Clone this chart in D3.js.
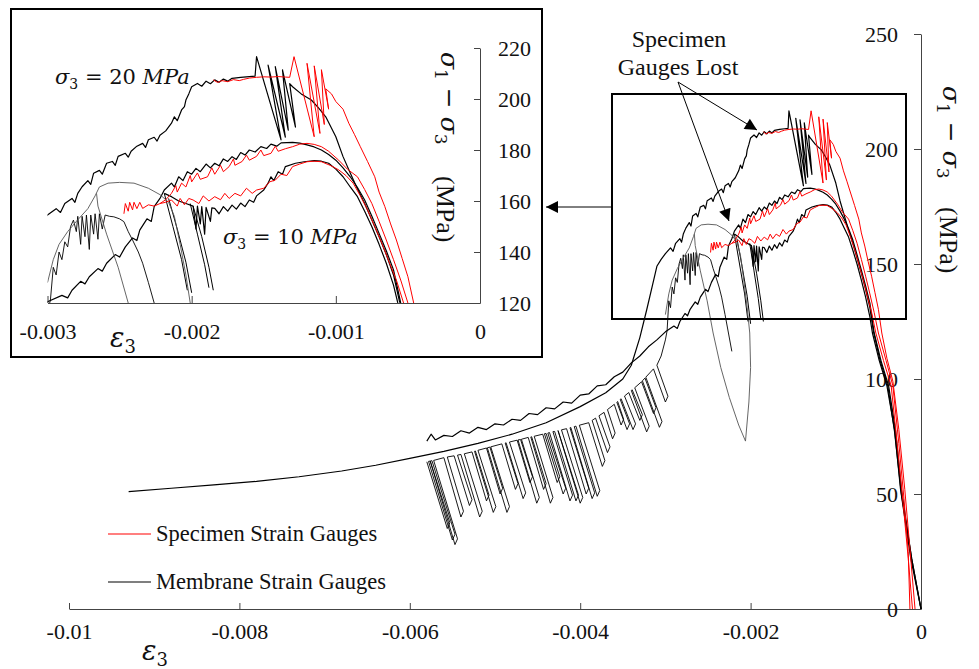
<!DOCTYPE html>
<html><head><meta charset="utf-8">
<script src="https://cdn.jsdelivr.net/npm/d3@7"></script>
<style>body{margin:0;background:#fff}svg{display:block}</style>
</head><body><svg id="c" width="979" height="669"></svg>
<script>
// ---------- axis ticks ----------
const xTicksMain = [-0.01, -0.008, -0.006, -0.004, -0.002, 0];
const xTickLabelsMain = ["-0.01", "-0.008", "-0.006", "-0.004", "-0.002", "0"];
const yTicksMain = [0, 50, 100, 150, 200, 250];
const xTicksInset = [-0.003, -0.002, -0.001, 0];
const xTickLabelsInset = ["-0.003", "-0.002", "-0.001", "0"];
const yTicksInset = [120, 140, 160, 180, 200, 220];
const legendLabels = ["Specimen Strain Gauges", "Membrane Strain Gauges"];

// ---------- series (strain eps3, deviator stress MPa) ----------
// membrane gauges, sigma3 = 20 MPa
const membrane20 = [[-0.0093,51],[-0.0088,52.5],[-0.0083,54],[-0.0078,55.5],[-0.0073,57.5],[-0.0068,60],[-0.0064,62.5],[-0.006,65.5],[-0.0056,68.5],[-0.0052,72],[-0.0048,76],[-0.0044,81],[-0.004,88],[-0.0037,94],[-0.0035,100],[-0.0034,106],[-0.0033,118],[-0.00322,130],[-0.00315,141],[-0.0031,149],[-0.00305,152],[-0.003,154.5],[-0.00294,157],[-0.00291,155.5],[-0.00288,159],[-0.00283,161],[-0.00281,159.5],[-0.00279,163],[-0.00276,165.6],[-0.00272,168],[-0.0027,166.5],[-0.00268,170.9],[-0.00264,172],[-0.00262,170.5],[-0.00259,174.8],[-0.00255,175.5],[-0.00253,174],[-0.00251,177.5],[-0.00246,178.7],[-0.00244,177.2],[-0.00242,179.5],[-0.00238,181.5],[-0.00234,182.6],[-0.00232,181],[-0.0023,184],[-0.00226,185],[-0.00224,183.5],[-0.00222,185.8],[-0.00218,187.5],[-0.00214,190.5],[-0.00212,193],[-0.0021,191.5],[-0.00207,195.7],[-0.00205,197],[-0.00204,199.6],[-0.00202,202],[-0.002,204.8],[-0.00196,206.1],[-0.00193,205],[-0.0019,207],[-0.00187,206],[-0.00184,207.5],[-0.00181,206.6],[-0.00178,207.8],[-0.00175,207],[-0.00172,208.1],[-0.00166,208.5],[-0.0016,208.8],[-0.00156,209],[-0.00155,216.6],[-0.00138,184],[-0.00147,213.3],[-0.00135,185],[-0.00142,212.7],[-0.00133,187.8],[-0.00137,211.4],[-0.00128,189],[-0.00132,206],[-0.0013,204.8],[-0.00124,202],[-0.00117,199.6],[-0.00112,196.5],[-0.00107,193],[-0.001,185.2],[-0.00095,177.4],[-0.0009,171],[-0.00086,166],[-0.0008,159],[-0.00075,152.5],[-0.0007,146],[-0.00065,139],[-0.0006,131],[-0.00056,121],[-0.00048,108],[-0.00039,97],[-0.00031,77],[-0.00023,50],[-0.00011,22],[0,0]];

// membrane gauges, sigma3 = 10 MPa (upper, peak ~183)
const membrane10a = [[-0.0058,73],[-0.00575,76],[-0.0057,73.5],[-0.0056,75.5],[-0.0055,75],[-0.0054,77.5],[-0.0053,76.5],[-0.0052,79],[-0.0051,78],[-0.005,80.5],[-0.0049,80],[-0.0048,82.5],[-0.0047,82],[-0.0046,85],[-0.0045,84.5],[-0.0044,87.5],[-0.0043,87],[-0.0042,90],[-0.0041,89.5],[-0.004,93],[-0.0039,93.5],[-0.0038,97],[-0.0037,97.5],[-0.0036,101],[-0.0035,103],[-0.0034,107],[-0.0033,110],[-0.0032,114],[-0.0031,117],[-0.003,120.5],[-0.0029,123],[-0.00286,122],[-0.00283,125],[-0.00277,128.5],[-0.00274,127.5],[-0.00271,130.3],[-0.00265,133.5],[-0.00262,132.5],[-0.00259,135.6],[-0.00253,139],[-0.0025,138],[-0.00246,142],[-0.00241,145.5],[-0.00238,144.5],[-0.00236,148.6],[-0.00231,153],[-0.00228,152],[-0.00226,157.8],[-0.00222,161],[-0.00219,164.3],[-0.00214,167],[-0.00212,165.5],[-0.00209,169.5],[-0.00206,168],[-0.00203,171.5],[-0.002,170.5],[-0.00197,172.8],[-0.00194,171.5],[-0.0019,174.5],[-0.00187,173],[-0.00184,174.8],[-0.00181,173.8],[-0.00178,176.5],[-0.00175,175.5],[-0.00172,177.4],[-0.00169,176.3],[-0.00166,179],[-0.00163,178],[-0.0016,180],[-0.00156,179.2],[-0.00152,181.3],[-0.00148,180.6],[-0.00145,182.3],[-0.00141,181.5],[-0.00138,182.8],[-0.0013,183],[-0.00125,182.7],[-0.0012,182],[-0.00115,181.2],[-0.0011,180],[-0.00105,178.2],[-0.001,176],[-0.00095,173],[-0.0009,169.5],[-0.00085,165.3],[-0.0008,160.4],[-0.00075,154],[-0.0007,147.3],[-0.00065,140.5],[-0.0006,133],[-0.00055,120],[-0.00047,108],[-0.00038,97],[-0.0003,78],[-0.00023,52],[-0.00011,22],[0,0]];

// membrane gauges, sigma3 = 10 MPa (lower, peak ~176)
const membrane10b = [[-0.00219,163],[-0.00214,161.7],[-0.00209,160],[-0.00204,159],[-0.00199,158],[-0.00197,149],[-0.00196,158],[-0.00194,151],[-0.00193,157.8],[-0.00191,147],[-0.0019,157.5],[-0.00187,152],[-0.00186,157.3],[-0.00184,157.1],[-0.00181,155],[-0.00178,157.8],[-0.00175,156],[-0.00172,158.4],[-0.00169,156.8],[-0.00166,159.2],[-0.00163,157.8],[-0.0016,160.4],[-0.00157,159.5],[-0.00155,162],[-0.0015,164.3],[-0.00147,167],[-0.00145,169.5],[-0.00143,168],[-0.0014,171.5],[-0.00137,170.5],[-0.00135,173.5],[-0.00128,174.8],[-0.00122,175.4],[-0.00115,175.8],[-0.0011,175.6],[-0.00105,174.8],[-0.001,172.5],[-0.00095,169.5],[-0.0009,165.5],[-0.00085,161.7],[-0.0008,156],[-0.00075,149.9],[-0.0007,143],[-0.00065,135.6],[-0.0006,127],[-0.00057,120],[-0.00049,108],[-0.0004,97],[-0.00031,78],[-0.00024,52],[-0.00012,22],[0,0]];

// membrane gauges, early failure curve with leaning unloading loops
const membrane10c = [
[-0.0058,64],[-0.00556,35],[-0.00553,37.5],[-0.00576,64.3],
[-0.00578,64.2],[-0.0055,30],[-0.00547,32.5],[-0.00574,64.5],
[-0.00576,64.3],[-0.00547,28],[-0.00544,30.5],[-0.00572,64.6],
[-0.0056,65.8],[-0.0054,40],[-0.00537,42.5],[-0.00556,66.1],
[-0.00548,66.6],[-0.0053,45],[-0.00527,47.5],[-0.00544,66.9],
[-0.0054,67.2],[-0.00518,40],[-0.00515,42.5],[-0.00536,67.5],
[-0.00527,68.3],[-0.0051,47],[-0.00507,49.5],[-0.00523,68.7],
[-0.00524,68.6],[-0.00502,42],[-0.00499,44.5],[-0.0052,69],
[-0.0051,70],[-0.00494,50],[-0.00491,52.5],[-0.00506,70.4],
[-0.00509,70.1],[-0.00486,42],[-0.00483,44.5],[-0.00505,70.5],
[-0.00492,71.8],[-0.00476,52],[-0.00473,54.5],[-0.00488,72.1],
[-0.00487,72.3],[-0.00467,48],[-0.00464,50.5],[-0.00483,72.6],
[-0.00474,73.4],[-0.00459,55],[-0.00456,57.5],[-0.0047,73.7],
[-0.00473,73.5],[-0.00451,46],[-0.00448,48.5],[-0.00469,73.8],
[-0.00461,74.6],[-0.00443,52],[-0.0044,54.5],[-0.00457,74.9],
[-0.00458,74.8],[-0.00435,46],[-0.00432,48.5],[-0.00454,75.1],
[-0.00444,76],[-0.00427,55],[-0.00424,57.5],[-0.0044,76.3],
[-0.00442,76.2],[-0.0042,50],[-0.00417,52.5],[-0.00438,76.5],
[-0.00436,76.7],[-0.00412,47],[-0.00409,49.5],[-0.00432,77.1],
[-0.0043,77.2],[-0.00405,47],[-0.00402,49.5],[-0.00426,77.6],
[-0.00426,77.5],[-0.004,46],[-0.00397,48.5],[-0.00422,77.9],
[-0.00416,78.4],[-0.00393,50],[-0.0039,52.5],[-0.00412,78.8],
[-0.00411,78.9],[-0.00386,48],[-0.00383,50.5],[-0.00407,79.3],
[-0.00405,79.5],[-0.0038,49],[-0.00377,51.5],[-0.00401,79.9],
[-0.0039,81],[-0.00374,62],[-0.00371,64.5],[-0.00386,82],
[-0.00382,83],[-0.00368,68],[-0.00365,70.5],[-0.00378,84],
[-0.00372,85.5],[-0.00362,74],[-0.00359,76.5],[-0.00368,86.7],
[-0.0036,89],[-0.00352,80],[-0.00349,82.5],[-0.00356,90.2],
[-0.00357,89.9],[-0.00345,78],[-0.00342,80.5],[-0.00353,91.1],
[-0.00352,91.4],[-0.00338,78],[-0.00335,80.5],[-0.00348,92.6],
[-0.00343,94.1],[-0.0033,82],[-0.00327,84.5],[-0.00339,95.3],
[-0.0034,95],[-0.00322,77],[-0.00319,79.5],[-0.00336,96.2],
[-0.00328,98.8],[-0.00314,85],[-0.00311,87.5],[-0.00324,100.4],
[-0.00327,99.2],[-0.00307,79],[-0.00304,81.5],[-0.00323,100.8],
[-0.00314,104.4],[-0.003,90],[-0.00297,92.5],[-0.0031,106],
[-0.00305,110],[-0.003,117],[-0.00298,121],[-0.00296,134],[-0.00294,131],[-0.00292,140],[-0.0029,137],[-0.00288,144],[-0.00286,142],[-0.00284,150],[-0.00282,152.5],[-0.0028,148],[-0.00279,154],[-0.00277,143],[-0.00276,154],[-0.00274,146],[-0.00273,154.5],[-0.00271,141],[-0.0027,154.5],[-0.00268,147],[-0.00267,155],[-0.00265,145],[-0.00264,155],[-0.00262,149],[-0.0026,154.5],[-0.00257,154],[-0.00254,153.8],[-0.0025,153],[-0.00247,151.9],[-0.00244,148],[-0.00241,144.7],[-0.00237,140],[-0.00234,135.6],[-0.0023,128],[-0.00226,120],[-0.00222,112]];

// membrane gauge drop-outs near eps3 = -0.002
const membraneDropA = [[-0.00219,163],[-0.00213,150],[-0.00207,137],[-0.00203,125]];
const membraneDropB = [[-0.00216,161],[-0.0021,149],[-0.00204,136],[-0.002,124]];
const membraneDropC = [[-0.00201,159],[-0.00196,147],[-0.00191,135],[-0.00188,126]];
const membraneDropD = [[-0.00199,158],[-0.00193,146],[-0.00188,134],[-0.00185,125]];

// thin grey unloading loop
const membraneLoop = [[-0.003,128],[-0.00296,137],[-0.00292,143],[-0.00286,148],[-0.0028,152],[-0.00272,157],[-0.00267,162],[-0.00264,165.5],[-0.00258,167],[-0.0025,167.3],[-0.0024,167],[-0.0023,165],[-0.00222,162.5],[-0.00216,159.5],[-0.00212,154],[-0.00208,143],[-0.00204,131],[-0.00201,120],[-0.002,105],[-0.00202,90],[-0.00206,73],[-0.00214,80],[-0.00225,92],[-0.00235,105],[-0.00244,120],[-0.00251,134],[-0.00259,147],[-0.00265,158],[-0.00266,163]];

// specimen gauges, sigma3 = 20 MPa
const specimen20 = [[-0.00185,207.5],[-0.00182,206.5],[-0.00179,207.2],[-0.00175,206.8],[-0.00171,207.6],[-0.00167,207.2],[-0.00164,207.7],[-0.0016,208.2],[-0.00155,208.5],[-0.0015,208.7],[-0.00145,208.6],[-0.0014,208.8],[-0.00135,208.6],[-0.00132,208.5],[-0.00129,216.6],[-0.00115,185.2],[-0.0012,214],[-0.00111,186.5],[-0.00115,213],[-0.00108,190],[-0.0011,211.5],[-0.00105,196],[-0.00107,204],[-0.00103,202],[-0.001,199],[-0.00095,196],[-0.00091,190.5],[-0.00087,186],[-0.00083,181.3],[-0.00078,175.5],[-0.00073,169.5],[-0.0007,163.5],[-0.00066,157.8],[-0.00062,151],[-0.00058,144.7],[-0.00054,137.5],[-0.0005,130.3],[-0.00046,120],[-0.0004,109],[-0.00033,99],[-0.00026,78],[-0.00019,52],[-0.00013,26],[-0.00007,0]];

// specimen gauges, sigma3 = 10 MPa (upper)
const specimen10a = [[-0.00247,155],[-0.00246,159],[-0.00244,156],[-0.00243,159.5],[-0.00241,156.5],[-0.0024,159.5],[-0.00238,157],[-0.00236,159.5],[-0.00234,157.1],[-0.0023,158.5],[-0.00226,158],[-0.00222,159],[-0.00218,160.5],[-0.00214,163],[-0.00211,166],[-0.0021,163.5],[-0.00207,167],[-0.00204,165.5],[-0.00201,170],[-0.002,167.5],[-0.00196,171],[-0.00194,168.5],[-0.00189,169.5],[-0.00186,173],[-0.00184,170.5],[-0.0018,174],[-0.00178,171.5],[-0.00174,173.5],[-0.00171,176.5],[-0.0017,174],[-0.00165,175.5],[-0.00162,178],[-0.0016,176],[-0.00155,177.5],[-0.00152,180],[-0.0015,177.8],[-0.00145,178.7],[-0.00142,181.5],[-0.0014,179.5],[-0.00135,180.5],[-0.0013,181.3],[-0.00125,182.3],[-0.0012,182.6],[-0.00115,182.2],[-0.0011,181.3],[-0.00105,179.5],[-0.00098,176],[-0.00092,172.5],[-0.00085,169.5],[-0.0008,164.5],[-0.00075,159],[-0.0007,152],[-0.00065,144.7],[-0.0006,137],[-0.00055,129],[-0.0005,120],[-0.00041,108],[-0.00033,97],[-0.00026,72],[-0.0002,48],[-0.00015,25],[-0.00013,0]];

// specimen gauges, sigma3 = 10 MPa (lower)
const specimen10b = [[-0.00222,159],[-0.00218,159.5],[-0.00214,160.4],[-0.0021,158],[-0.00208,161],[-0.00205,158.5],[-0.00202,161],[-0.00199,160.4],[-0.00195,159],[-0.00192,162],[-0.00188,160],[-0.00184,161.7],[-0.0018,160.5],[-0.00177,163],[-0.00174,161],[-0.0017,163],[-0.00166,162],[-0.00162,165],[-0.00158,163],[-0.00155,164.3],[-0.0015,165],[-0.00146,167.5],[-0.00142,168.2],[-0.00138,170.5],[-0.00134,170],[-0.0013,173.5],[-0.00125,174.5],[-0.0012,175.4],[-0.00115,175.6],[-0.0011,175.4],[-0.00104,174],[-0.00098,172.2],[-0.00093,170],[-0.00088,167],[-0.00083,162],[-0.00078,156.5],[-0.00073,150],[-0.00068,143.4],[-0.00063,136],[-0.00058,129],[-0.00053,120],[-0.00044,108],[-0.00035,97],[-0.00028,72],[-0.00021,46],[-0.00015,22],[-0.0001,0]];

const series = [
  {data: membrane10c, color: "#000", w: 0.9},
  {data: membrane10a, color: "#000", w: 1.2},
  {data: membrane10b, color: "#000", w: 1.2},
  {data: membrane20, color: "#000", w: 1.2},
  {data: membraneDropA, color: "#000", w: 1},
  {data: membraneDropB, color: "#000", w: 1},
  {data: membraneDropC, color: "#000", w: 1},
  {data: membraneDropD, color: "#000", w: 1},
  {data: membraneLoop, color: "#555", w: 0.9},
  {data: specimen10a, color: "#ff0000", w: 1},
  {data: specimen10b, color: "#ff0000", w: 1},
  {data: specimen20, color: "#ff0000", w: 1}
];

// ---------- drawing ----------
const svg = d3.select("#c");
const FONT = "'Liberation Serif','Times New Roman',serif";
const MATH = "'DejaVu Serif','Liberation Serif',serif";

const xM = d3.scaleLinear().domain([-0.01, 0]).range([69, 921]);
const yM = d3.scaleLinear().domain([0, 250]).range([609, 34]);
const xI = d3.scaleLinear().domain([-0.003, 0]).range([47.5, 480]);
const yI = d3.scaleLinear().domain([120, 220]).range([303, 48]);

function drawAxes(g, xs, ys, xt, xl, yt, opts) {
  const xa = d3.axisBottom(xs).tickValues(xt).tickFormat((d, i) => xl[i]).tickSizeInner(-opts.xTick).tickSizeOuter(0).tickPadding(opts.xPad);
  const gx = g.append("g").attr("transform", `translate(0,${ys.range()[0]})`).call(xa);
  const ya = (opts.yRightLabels ? d3.axisRight(ys).tickSizeInner(-opts.yTick) : d3.axisLeft(ys).tickSizeInner(opts.yTick))
    .tickValues(yt).tickFormat(d3.format("d")).tickSizeOuter(0).tickPadding(opts.yPad);
  const gy = g.append("g").attr("transform", `translate(${xs.range()[1]},0)`).call(ya);
  [gx, gy].forEach(a => {
    a.select(".domain").attr("stroke", "#444").attr("stroke-width", 1);
    a.selectAll(".tick line").attr("stroke", "#444").attr("stroke-width", 1);
    a.selectAll("text").attr("font-family", FONT).attr("font-size", opts.fs).attr("fill", "#111");
  });
  if (opts.yRightLabels) gy.selectAll("text").attr("x", opts.yLabelX);
  return {gx, gy};
}

function drawSeries(g, xs, ys) {
  const line = d3.line().x(d => xs(d[0])).y(d => ys(d[1]));
  g.selectAll("path.s").data(series).enter().append("path").attr("class", "s")
    .attr("d", d => line(d.data)).attr("fill", "none")
    .attr("stroke", d => d.color).attr("stroke-width", d => d.w).attr("stroke-linejoin", "round");
}

// arrow marker
const defs = svg.append("defs");
defs.append("marker").attr("id", "ah").attr("viewBox", "0 0 10 10").attr("refX", 10).attr("refY", 5)
  .attr("markerWidth", 14).attr("markerHeight", 12).attr("markerUnits", "userSpaceOnUse").attr("orient", "auto")
  .append("path").attr("d", "M0,0 L10,5 L0,10 Z").attr("fill", "#000");
defs.append("clipPath").attr("id", "clipI").append("rect")
  .attr("x", xI.range()[0]).attr("y", yI.range()[1]).attr("width", xI.range()[1] - xI.range()[0]).attr("height", yI.range()[0] - yI.range()[1]);

// ---- main chart ----
const main = svg.append("g");
drawAxes(main, xM, yM, xTicksMain, xTickLabelsMain, yTicksMain, {xTick: 6, yTick: 7, xPad: 14, yPad: 16, fs: 22});
drawSeries(main.append("g"), xM, yM);

// main axis titles
const yt = main.append("text").attr("transform", "translate(943,86) rotate(90)")
  .attr("font-family", MATH).attr("font-size", 25).attr("fill", "#111");
yt.append("tspan").attr("font-style", "italic").text("σ");
yt.append("tspan").attr("font-size", 17).attr("dy", 6).text("1");
yt.append("tspan").attr("dy", -6).text(" − ");
yt.append("tspan").attr("font-style", "italic").text("σ");
yt.append("tspan").attr("font-size", 17).attr("dy", 6).text("3");
main.append("text").attr("transform", "translate(940,207) rotate(90)")
  .attr("font-family", FONT).attr("font-size", 26).attr("fill", "#111").text("(MPa)");
const xt = main.append("text").attr("x", 142).attr("y", 660).attr("font-family", MATH).attr("font-size", 27).attr("fill", "#111");
xt.append("tspan").attr("font-style", "italic").text("ε");
xt.append("tspan").attr("font-size", 18).attr("dy", 6).text("3");

// main zoom box
main.append("rect").attr("x", 612).attr("y", 94).attr("width", 294).attr("height", 225)
  .attr("fill", "none").attr("stroke", "#000").attr("stroke-width", 2);
// connector arrow to inset
main.append("line").attr("x1", 612).attr("y1", 207).attr("x2", 546).attr("y2", 207)
  .attr("stroke", "#000").attr("stroke-width", 1).attr("marker-end", "url(#ah)");

// annotation
const ann = main.append("g").attr("font-family", FONT).attr("font-size", 24).attr("fill", "#111").attr("text-anchor", "middle");
ann.append("text").attr("x", 679).attr("y", 47).text("Specimen");
ann.append("text").attr("x", 678).attr("y", 75).text("Gauges Lost");
main.append("line").attr("x1", 678).attr("y1", 82).attr("x2", 757).attr("y2", 130)
  .attr("stroke", "#000").attr("stroke-width", 1).attr("marker-end", "url(#ah)");
main.append("line").attr("x1", 678).attr("y1", 82).attr("x2", 729).attr("y2", 221)
  .attr("stroke", "#000").attr("stroke-width", 1).attr("marker-end", "url(#ah)");

// legend
const legColors = ["#ff0000", "#000"];
const leg = main.append("g");
legendLabels.forEach((t, i) => {
  const y = 534 + i * 48;
  leg.append("line").attr("x1", 108).attr("x2", 151).attr("y1", y).attr("y2", y).attr("stroke", legColors[i]).attr("stroke-width", 1.2);
  leg.append("text").attr("x", 156).attr("y", y + 7).attr("font-family", FONT).attr("font-size", 22.5).attr("fill", "#111").text(t);
});

// ---- inset ----
const ins = svg.append("g");
ins.append("rect").attr("x", 11).attr("y", 9).attr("width", 531).attr("height", 348)
  .attr("fill", "#fff").attr("stroke", "#000").attr("stroke-width", 2);
drawAxes(ins, xI, yI, xTicksInset, xTickLabelsInset, yTicksInset, {xTick: 7, yTick: 6, xPad: 20, yPad: 18, fs: 22, yRightLabels: true, yLabelX: 18});
drawSeries(ins.append("g").attr("clip-path", "url(#clipI)"), xI, yI);

const yti = ins.append("text").attr("transform", "translate(441,52) rotate(90)")
  .attr("font-family", MATH).attr("font-size", 25).attr("fill", "#111");
yti.append("tspan").attr("font-style", "italic").text("σ");
yti.append("tspan").attr("font-size", 17).attr("dy", 6).text("1");
yti.append("tspan").attr("dy", -6).text(" − ");
yti.append("tspan").attr("font-style", "italic").text("σ");
yti.append("tspan").attr("font-size", 17).attr("dy", 6).text("3");
ins.append("text").attr("transform", "translate(437,176) rotate(90)")
  .attr("font-family", FONT).attr("font-size", 26).attr("fill", "#111").text("(MPa)");
const xti = ins.append("text").attr("x", 110).attr("y", 347).attr("font-family", MATH).attr("font-size", 27).attr("fill", "#111");
xti.append("tspan").attr("font-style", "italic").text("ε");
xti.append("tspan").attr("font-size", 18).attr("dy", 6).text("3");

function sigmaLabel(x, y, val) {
  const t = ins.append("text").attr("x", x).attr("y", y).attr("font-family", MATH).attr("font-size", 21).attr("fill", "#111");
  t.append("tspan").attr("font-style", "italic").text("σ");
  t.append("tspan").attr("font-size", 14).attr("dy", 5).text("3");
  t.append("tspan").attr("dy", -5).text(" = " + val + " ");
  t.append("tspan").attr("font-style", "italic").text("MPa");
}
sigmaLabel(55, 84, 20);
sigmaLabel(223, 244, 10);
</script></body></html>
